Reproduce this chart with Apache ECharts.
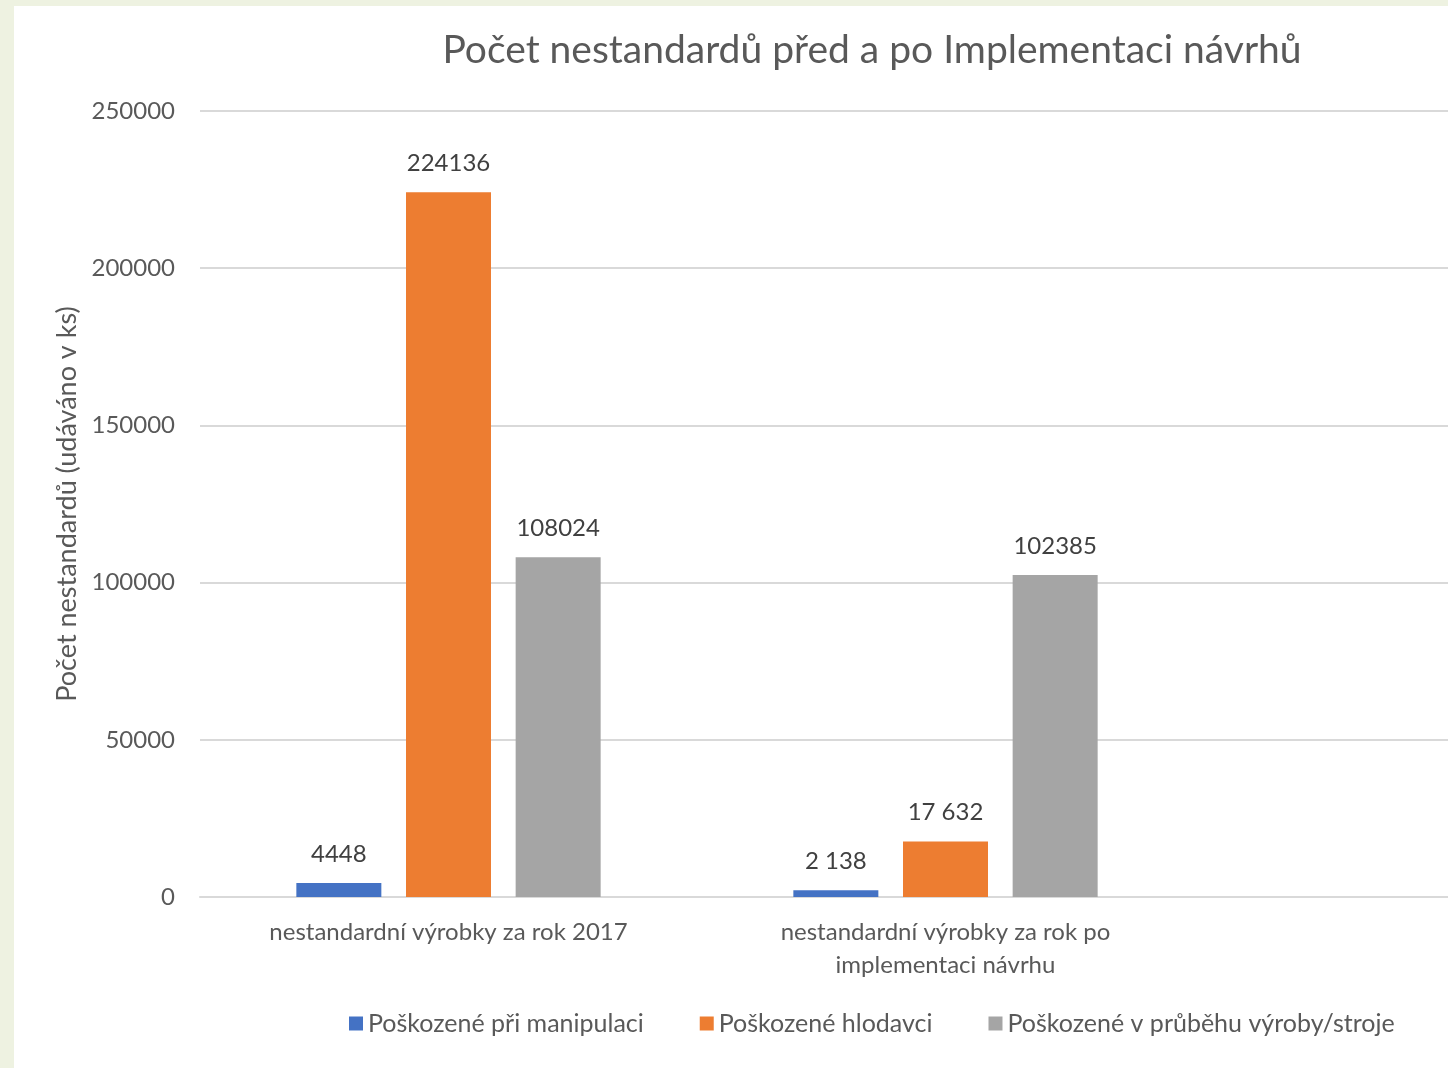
<!DOCTYPE html>
<html>
<head>
<meta charset="UTF-8">
<title>Počet nestandardů</title>
<script src="https://cdn.jsdelivr.net/npm/echarts@6/dist/echarts.min.js"></script>
<style>
    html, body { margin: 0; padding: 0; }
    body { width: 1448px; height: 1068px; background: #eef2e1; position: relative; overflow: hidden; }
    #paper { position: absolute; left: 14px; top: 6px; right: 0; bottom: 0; background: #fff; }
    #main { position: absolute; left: 0; top: 0; width: 1448px; height: 1068px; }
</style>
</head>
<body>
<div id="paper"></div>
<div id="main"></div>
<script>
// kategorie (třetí je prázdná - graf je v originále oříznutý vpravo)
var categories = ['nestandardní výrobky za rok 2017', 'nestandardní výrobky za rok po\nimplementaci návrhu', ''];
var seriesNames = ['Poškozené při manipulaci', 'Poškozené hlodavci', 'Poškozené v průběhu výroby/stroje'];
var manipulace = [4448, 2138, '-'];
var hlodavci = [224136, 17632, '-'];
var vyroba = [108024, 102385, '-'];
// popisky tak jak jsou v grafu
var manipulaceLabels = ['4448', '2 138', ''];
var hlodavciLabels = ['224136', '17 632', ''];
var vyrobaLabels = ['108024', '102385', ''];
var yTicks = [0, 50000, 100000, 150000, 200000, 250000];

var colors = ['#4472c4', '#ed7d31', '#a5a5a5'];
var font = 'Lato, "Noto Sans", sans-serif';

function makeSeries(name, data, labels, color) {
    return {
        name: name,
        type: 'bar',
        data: data,
        barWidth: 85,
        barGap: '29%',
        itemStyle: { color: color },
        label: {
            show: true,
            position: 'top',
            distance: 17,
            color: '#404040',
            fontFamily: font,
            fontSize: 24,
            formatter: function (p) { return labels[p.dataIndex]; }
        }
    };
}

var myChart = echarts.init(document.getElementById('main'));
var option = {
    backgroundColor: 'transparent',
    animation: false,
    textStyle: { fontFamily: font },
    title: {
        text: 'Počet nestandardů před a po Implementaci návrhů',
        left: 867,
        top: 26,
        textAlign: 'center',
        textStyle: { color: '#595959', fontSize: 39, fontWeight: 'normal', fontFamily: font }
    },
    legend: {
        left: 344,
        top: 1006,
        itemWidth: 14,
        itemHeight: 14,
        itemGap: 56,
        icon: 'rect',
        textStyle: { color: '#595959', fontSize: 25, fontFamily: font, padding: [0, 0, 0, 0] },
        data: seriesNames
    },
    grid: { left: 200, right: -243, top: 111, bottom: 171, containLabel: false, outerBoundsMode: 'none' },
    xAxis: {
        type: 'category',
        data: categories,
        axisLine: { lineStyle: { color: '#d9d9d9', width: 2 } },
        axisTick: { show: false },
        axisLabel: { color: '#595959', fontSize: 24, lineHeight: 33, margin: 19, fontFamily: font, interval: 0 }
    },
    yAxis: {
        type: 'value',
        min: yTicks[0],
        max: yTicks[yTicks.length - 1],
        interval: yTicks[1] - yTicks[0],
        name: 'Počet nestandardů (udáváno v ks)',
        nameLocation: 'middle',
        nameGap: 118,
        nameTextStyle: { color: '#595959', fontSize: 27, fontFamily: font },
        axisLine: { show: false },
        axisTick: { show: false },
        axisLabel: { color: '#595959', fontSize: 24, margin: 25, fontFamily: font, formatter: function (v) { return String(v); } },
        splitLine: { lineStyle: { color: '#d9d9d9', width: 2 } }
    },
    series: [
        makeSeries(seriesNames[0], manipulace, manipulaceLabels, colors[0]),
        makeSeries(seriesNames[1], hlodavci, hlodavciLabels, colors[1]),
        makeSeries(seriesNames[2], vyroba, vyrobaLabels, colors[2])
    ]
};
myChart.setOption(option);
</script>
</body>
</html>
